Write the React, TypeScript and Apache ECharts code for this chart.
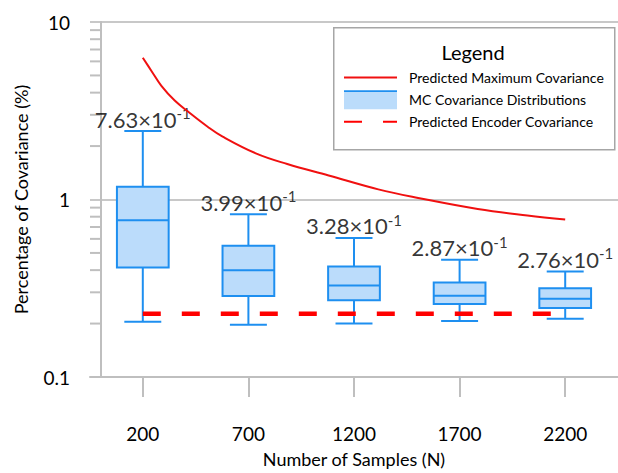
import React, { useEffect, useRef } from "react";
import * as echarts from "echarts";

// ---- data ----
const CATEGORIES = ["200", "700", "1200", "1700", "2200"];
const MC_MIN = [0.205, 0.197, 0.2, 0.207, 0.213];
const MC_Q1 = [0.414, 0.286, 0.271, 0.258, 0.245];
const MC_MEDIAN = [0.763, 0.399, 0.328, 0.287, 0.276];
const MC_Q3 = [1.18, 0.548, 0.419, 0.341, 0.316];
const MC_MAX = [2.43, 0.826, 0.607, 0.458, 0.393];
const ENCODER_COV = [0.227, 0.227, 0.227, 0.227, 0.227];
const MAX_COV_N = [200, 241, 288, 351, 421, 507, 578, 735, 884, 1080, 1315, 1504, 1786, 2021, 2200];
const MAX_COV = [6.29, 5.3, 4.37, 3.61, 3.08, 2.57, 2.26, 1.82, 1.585, 1.365, 1.14, 1.02, 0.884, 0.812, 0.771];
const MINOR_TICKS = [0.2, 0.3, 0.4, 0.5, 0.6, 0.7, 0.8, 0.9, 2, 3, 4, 5, 6, 7, 8, 9];
const N_AXIS_MIN = -50;
const N_AXIS_MAX = 2450;

const FONT = "Lato";
const BLUE = "#1e8ff0";
const LIGHT = "#bbdcfb";
const RED = "#f01010";
const GRAY = "#bfbfbf";

export default function App() {
  const ref = useRef<HTMLDivElement>(null);
  useEffect(() => {
    if (!ref.current) return;
    const chart = echarts.init(ref.current, null, { renderer: "svg" });
    const boxData = CATEGORIES.map((_, i) => [i, MC_MIN[i], MC_Q1[i], MC_MEDIAN[i], MC_Q3[i], MC_MAX[i]]);
    const option: any = {
      animation: false,
      textStyle: { fontFamily: FONT },
      grid: { left: 90, top: 22, width: 531, height: 360 },
      xAxis: [
        {
          type: "category",
          data: CATEGORIES,
          boundaryGap: true,
          axisLine: { lineStyle: { color: GRAY, width: 2 } },
          axisTick: { show: true, alignWithLabel: true, length: 20, lineStyle: { color: GRAY, width: 2 } },
          axisLabel: { color: "#000", fontSize: 19, margin: 47, fontFamily: FONT },
          name: "Number of Samples (N)",
          nameLocation: "middle",
          nameGap: 73,
          nameTextStyle: { color: "#000", fontSize: 18, fontFamily: FONT },
          splitLine: { show: false },
        },
        {
          type: "value",
          min: N_AXIS_MIN,
          max: N_AXIS_MAX,
          show: false,
          splitLine: { show: false },
        },
      ],
      yAxis: {
        type: "log",
        logBase: 10,
        min: 0.1,
        max: 10,
        axisLine: { show: true, lineStyle: { color: GRAY, width: 2 } },
        axisTick: { show: false },
        axisLabel: { color: "#000", fontSize: 19, margin: 20, fontFamily: FONT, formatter: (v: number) => String(v) },
        splitLine: { show: true, lineStyle: { color: "#c8c8c8", width: 2 } },
        name: "Percentage of Covariance (%)",
        nameLocation: "middle",
        nameGap: 60,
        nameTextStyle: { color: "#000", fontSize: 18, fontFamily: FONT },
      },
      legend: {
        orient: "vertical",
        left: 343,
        top: 70,
        padding: 0,
        itemWidth: 53,
        itemHeight: 19,
        itemGap: 5,
        textStyle: { fontSize: 14, color: "#000", fontFamily: FONT, padding: [0, 0, 0, 7] },
        data: [
          { name: "Predicted Maximum Covariance", itemStyle: { opacity: 0 } },
          {
            name: "MC Covariance Distributions",
            icon: "rect",
            itemStyle: {
              color: {
                type: "linear",
                x: 0, y: 0, x2: 0, y2: 1,
                colorStops: [
                  { offset: 0, color: BLUE },
                  { offset: 0.12, color: BLUE },
                  { offset: 0.12, color: LIGHT },
                  { offset: 1, color: LIGHT },
                ],
              },
              borderWidth: 0,
            },
          },
          { name: "Predicted Encoder Covariance", itemStyle: { opacity: 0 } },
        ],
      },
      graphic: [
        {
          type: "rect",
          left: 333,
          top: 27,
          shape: { width: 281, height: 122 },
          style: { fill: "#fff", stroke: "#a6a6a6", lineWidth: 1.5 },
          z: 0,
          silent: true,
        },
        {
          type: "text",
          x: 473,
          y: 52,
          style: { text: "Legend", fontSize: 20, fontFamily: FONT, fill: "#000", align: "center", verticalAlign: "middle" },
          z: 1,
          silent: true,
        },
      ],
      series: [
        {
          name: "minor-ticks",
          type: "custom",
          xAxisIndex: 1,
          silent: true,
          data: MINOR_TICKS.map((v) => [N_AXIS_MIN, v]),
          renderItem: (params: any, api: any) => {
            const p = api.coord([api.value(0), api.value(1)]);
            return {
              type: "line",
              shape: { x1: p[0], y1: p[1], x2: p[0] + 10, y2: p[1] },
              style: { stroke: GRAY, lineWidth: 2 },
            };
          },
          z: 1,
        },
        {
          name: "MC Covariance Distributions",
          type: "custom",
          xAxisIndex: 0,
          data: boxData,
          encode: { x: 0, y: [1, 2, 3, 4, 5] },
          itemStyle: { color: LIGHT, borderColor: BLUE },
          renderItem: (params: any, api: any) => {
            const c = api.value(0);
            const pMin = api.coord([c, api.value(1)]);
            const pQ1 = api.coord([c, api.value(2)]);
            const pMed = api.coord([c, api.value(3)]);
            const pQ3 = api.coord([c, api.value(4)]);
            const pMax = api.coord([c, api.value(5)]);
            const band = Math.abs(api.coord([1, 1])[0] - api.coord([0, 1])[0]);
            const hw = band * 0.245;
            const cw = band * 0.175;
            const x = pMed[0];
            const st = { stroke: BLUE, lineWidth: 2, fill: null };
            return {
              type: "group",
              children: [
                { type: "line", shape: { x1: x, y1: pMax[1], x2: x, y2: pQ3[1] }, style: st },
                { type: "line", shape: { x1: x, y1: pQ1[1], x2: x, y2: pMin[1] }, style: st },
                { type: "line", shape: { x1: x - cw, y1: pMax[1], x2: x + cw, y2: pMax[1] }, style: st },
                { type: "line", shape: { x1: x - cw, y1: pMin[1], x2: x + cw, y2: pMin[1] }, style: st },
                {
                  type: "rect",
                  shape: { x: x - hw, y: pQ3[1], width: hw * 2, height: pQ1[1] - pQ3[1] },
                  style: { fill: LIGHT, stroke: BLUE, lineWidth: 2 },
                },
                { type: "line", shape: { x1: x - hw, y1: pMed[1], x2: x + hw, y2: pMed[1] }, style: st },
              ],
            };
          },
          z: 2,
        },
        {
          name: "median-labels",
          type: "scatter",
          xAxisIndex: 0,
          data: MC_MAX,
          symbolSize: 1,
          itemStyle: { color: "rgba(0,0,0,0)" },
          silent: true,
          label: {
            show: true,
            position: "top",
            distance: -2,
            formatter: (p: any) => `{m|${(MC_MEDIAN[p.dataIndex] * 10).toFixed(2)}×10}{s|-1}`,
            rich: {
              m: { fontSize: 22, fontFamily: FONT, color: "#000", lineHeight: 27 },
              s: { fontSize: 15, fontFamily: FONT, color: "#000", verticalAlign: "top", lineHeight: 27 },
            },
          },
          z: 3,
        },
        {
          name: "Predicted Maximum Covariance",
          type: "line",
          xAxisIndex: 1,
          data: MAX_COV_N.map((n, i) => [n, MAX_COV[i]]),
          showSymbol: false,
          symbol: "none",
          smooth: 0.4,
          lineStyle: { color: RED, width: 2 },
          itemStyle: { color: RED },
          z: 4,
        },
        {
          name: "Predicted Encoder Covariance",
          type: "line",
          xAxisIndex: 0,
          data: ENCODER_COV,
          showSymbol: false,
          symbol: "none",
          lineStyle: { color: "#ff0000", width: 4.5, type: [18, 21], cap: "butt" },
          itemStyle: { color: "#ff0000" },
          z: 5,
        },
      ],
    };
    chart.setOption(option);
    return () => chart.dispose();
  }, []);
  return (
    <div
      ref={ref}
      style={{ position: "fixed", left: 0, top: 0, width: 618, height: 473, background: "#fff" }}
    />
  );
}
